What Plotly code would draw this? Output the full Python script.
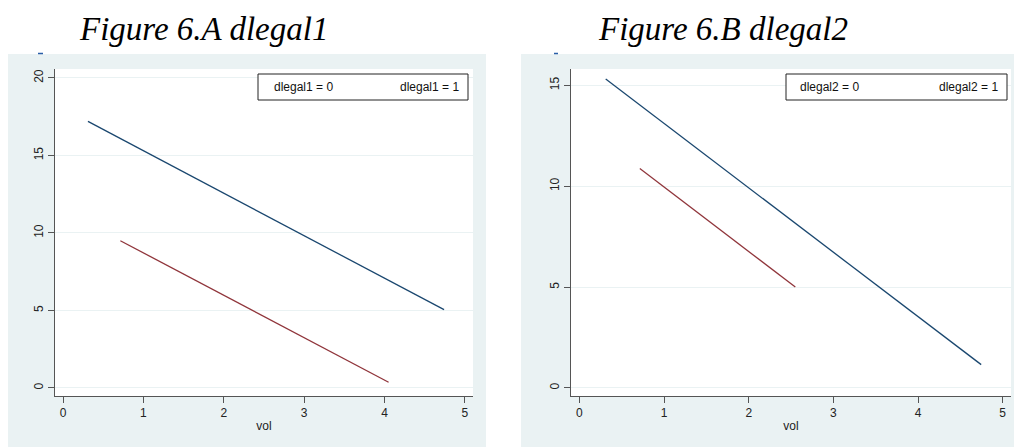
import plotly.graph_objects as go

# ---- data ----
vol_a_blue = [0.31, 4.74]
val_a_blue = [17.2, 5.05]
vol_a_red = [0.713, 4.05]
val_a_red = [9.5, 0.37]

vol_b_blue = [0.31, 4.746]
val_b_blue = [15.31, 1.155]
vol_b_red = [0.713, 2.55]
val_b_red = [10.88, 5.0]

x_ticks = [0, 1, 2, 3, 4, 5]
y_ticks_a = [0, 5, 10, 15, 20]
y_ticks_b = [0, 5, 10, 15]
titles = ["Figure 6.A dlegal1", "Figure 6.B dlegal2"]
legend_a = ["dlegal1 = 0", "dlegal1 = 1"]
legend_b = ["dlegal2 = 0", "dlegal2 = 1"]

W, H = 1014, 447
BLUE = "#1a476f"
RED = "#90353b"
BG = "#eaf2f3"
AXC = "#555555"
FONT = "Liberation Sans"


def px(x):
    return x / W


def py(y):
    return 1 - y / H


fig = go.Figure()
fig.add_trace(go.Scatter(x=vol_a_blue, y=val_a_blue, mode="lines",
                         line=dict(color=BLUE, width=1.3), xaxis="x", yaxis="y", showlegend=False))
fig.add_trace(go.Scatter(x=vol_a_red, y=val_a_red, mode="lines",
                         line=dict(color=RED, width=1.3), xaxis="x", yaxis="y", showlegend=False))
fig.add_trace(go.Scatter(x=vol_b_blue, y=val_b_blue, mode="lines",
                         line=dict(color=BLUE, width=1.3), xaxis="x2", yaxis="y2", showlegend=False))
fig.add_trace(go.Scatter(x=vol_b_red, y=val_b_red, mode="lines",
                         line=dict(color=RED, width=1.3), xaxis="x2", yaxis="y2", showlegend=False))

common_x = dict(showline=True, linecolor=AXC, linewidth=1, ticks="outside", ticklen=6,
                tickcolor=AXC, showgrid=False, zeroline=False, tickvals=x_ticks,
                tickfont=dict(family=FONT, size=12, color="#222"),
                title=dict(text="vol", font=dict(family=FONT, size=12, color="#222"), standoff=2))
common_y = dict(showline=True, linecolor=AXC, linewidth=1, ticks="outside", ticklen=6,
                tickcolor=AXC, showgrid=True, gridcolor=BG, gridwidth=1, zeroline=False,
                tickangle=-90, tickfont=dict(family=FONT, size=12, color="#222"))

fig.update_layout(
    width=W, height=H,
    margin=dict(l=0, r=0, t=0, b=0),
    paper_bgcolor="white", plot_bgcolor="white",
    xaxis=dict(common_x, domain=[px(55), px(473)], range=[-0.1, 5.1], anchor="y"),
    yaxis=dict(common_y, domain=[py(396), py(69)], range=[-0.52, 20.58], tickvals=y_ticks_a, anchor="x"),
    xaxis2=dict(common_x, domain=[px(571), px(1011)], range=[-0.1, 5.098], anchor="y2"),
    yaxis2=dict(common_y, domain=[py(396), py(69)], range=[-0.4, 15.81], tickvals=y_ticks_b, anchor="x2"),
)

shapes = [
    dict(type="rect", xref="paper", yref="paper", x0=px(8), x1=px(486), y0=0, y1=py(54),
         fillcolor=BG, line=dict(width=0), layer="below"),
    dict(type="rect", xref="paper", yref="paper", x0=px(521), x1=1, y0=0, y1=py(54),
         fillcolor=BG, line=dict(width=0), layer="below"),
    dict(type="rect", xref="paper", yref="paper", x0=px(55), x1=px(473), y0=py(396), y1=py(69),
         fillcolor="white", line=dict(width=0), layer="below"),
    dict(type="rect", xref="paper", yref="paper", x0=px(571), x1=px(1011), y0=py(396), y1=py(69),
         fillcolor="white", line=dict(width=0), layer="below"),
    dict(type="rect", xref="paper", yref="paper", x0=px(258), x1=px(468), y0=py(100), y1=py(74),
         fillcolor="white", line=dict(color="#222", width=1)),
    dict(type="rect", xref="paper", yref="paper", x0=px(786), x1=px(1007), y0=py(100), y1=py(74),
         fillcolor="white", line=dict(color="#222", width=1)),
    dict(type="line", xref="paper", yref="paper", x0=px(38), x1=px(43), y0=py(53.5), y1=py(53.5),
         line=dict(color="#2a5fa8", width=1.5)),
    dict(type="line", xref="paper", yref="paper", x0=px(554), x1=px(558), y0=py(53.5), y1=py(53.5),
         line=dict(color="#2a5fa8", width=1.5)),
]
fig.update_layout(shapes=shapes)

ann = []
for t, cx in zip(titles, [203.5, 722.5]):
    ann.append(dict(text=t, xref="paper", yref="paper", x=px(cx), y=py(29), xanchor="center",
                    yanchor="middle", showarrow=False,
                    font=dict(family="Liberation Serif", size=33, color="black", style="italic")))
leg_font = dict(family=FONT, size=12, color="#111")
ann += [
    dict(text=legend_a[0], xref="paper", yref="paper", x=px(272), y=py(87), xanchor="left",
         yanchor="middle", showarrow=False, font=leg_font),
    dict(text=legend_a[1], xref="paper", yref="paper", x=px(461), y=py(87), xanchor="right",
         yanchor="middle", showarrow=False, font=leg_font),
    dict(text=legend_b[0], xref="paper", yref="paper", x=px(798), y=py(87), xanchor="left",
         yanchor="middle", showarrow=False, font=leg_font),
    dict(text=legend_b[1], xref="paper", yref="paper", x=px(1000), y=py(87), xanchor="right",
         yanchor="middle", showarrow=False, font=leg_font),
]
fig.update_layout(annotations=ann)

fig.write_html("out.html", config={"displayModeBar": False},
               post_script="document.body.style.margin='0';document.body.style.overflow='hidden';")
